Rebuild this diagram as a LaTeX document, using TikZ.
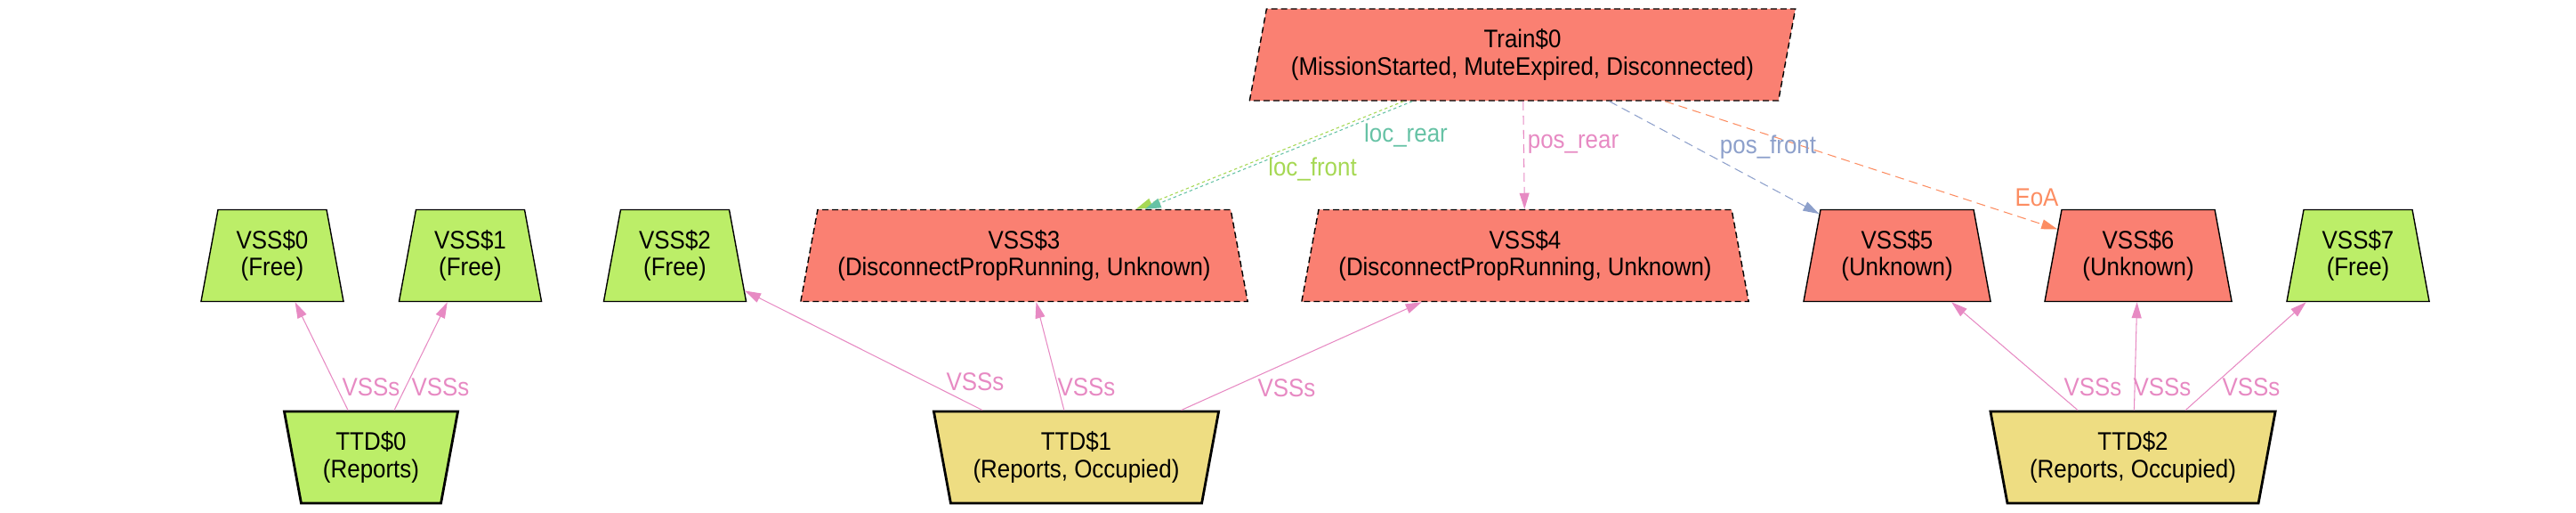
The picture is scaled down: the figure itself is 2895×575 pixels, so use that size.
\documentclass[tikz,border=0pt]{standalone}
\usepackage{fontspec}
\setmainfont{Liberation Sans}[FakeStretch=0.91]
\usetikzlibrary{shapes.geometric,arrows.meta}

\definecolor{salmon}{HTML}{FA8072}
\definecolor{olivegreen}{HTML}{BCEE68}
\definecolor{goldenrod}{HTML}{EEDD82}
\definecolor{setteal}{HTML}{66C2A5}
\definecolor{setorange}{HTML}{FC8D62}
\definecolor{setblue}{HTML}{8DA0CB}
\definecolor{setpink}{HTML}{E78AC3}
\definecolor{setgreen}{HTML}{A6D854}

\tikzset{
  vss/.style={draw, trapezium, trapezium angle=73.5, trapezium stretches body,
    minimum height=1.03cm, inner sep=1pt, align=center, line width=0.4pt},
  ttd/.style={vss, shape border rotate=180, line width=0.8pt},
  train/.style={draw, trapezium, trapezium left angle=73.5, trapezium right angle=106.5,
    trapezium stretches body, minimum height=1.03cm, inner sep=1pt, align=center, line width=0.4pt},
  freestate/.style={fill=olivegreen},
  unknownstate/.style={fill=salmon},
  occupiedstate/.style={fill=goldenrod},
  cutoff/.style={dash pattern=on 0.07cm off 0.04cm},
  link/.style={-{Triangle[length=0.18cm,width=0.11cm]}, line width=0.3pt},
  loose/.style={link, dash pattern=on 0.1cm off 0.06cm},
  tight/.style={link, dash pattern=on 0.035cm off 0.03cm},
  lbl/.style={inner sep=0pt}
}

\begin{document}
\begin{tikzpicture}[x=0.01cm, y=-0.01cm, font=\fontsize{8.1}{8.6}\selectfont]
  \useasboundingbox (0,0) rectangle (2895,575);

  % train
  \node[train, unknownstate, cutoff, minimum width=6.13cm] (tr) at (1711,61.5) {Train\$0\\(MissionStarted, MuteExpired, Disconnected)};

  % sections
  \node[vss, freestate, minimum width=1.60cm] (v0) at (306,287) {VSS\$0\\(Free)};
  \node[vss, freestate, minimum width=1.60cm] (v1) at (528.5,287) {VSS\$1\\(Free)};
  \node[vss, freestate, minimum width=1.60cm] (v2) at (758.5,287) {VSS\$2\\(Free)};
  \node[vss, unknownstate, cutoff, minimum width=5.02cm] (v3) at (1151,287) {VSS\$3\\(DisconnectPropRunning, Unknown)};
  \node[vss, unknownstate, cutoff, minimum width=5.02cm] (v4) at (1714,287) {VSS\$4\\(DisconnectPropRunning, Unknown)};
  \node[vss, unknownstate, minimum width=2.10cm] (v5) at (2132,287) {VSS\$5\\(Unknown)};
  \node[vss, unknownstate, minimum width=2.10cm] (v6) at (2403,287) {VSS\$6\\(Unknown)};
  \node[vss, freestate, minimum width=1.60cm] (v7) at (2650,287) {VSS\$7\\(Free)};

  % detection sections
  \node[ttd, freestate, minimum width=1.95cm] (t0) at (417,513.5) {TTD\$0\\(Reports)};
  \node[ttd, occupiedstate, minimum width=3.20cm] (t1) at (1209.5,513.5) {TTD\$1\\(Reports, Occupied)};
  \node[ttd, occupiedstate, minimum width=3.20cm] (t2) at (2397,513.5) {TTD\$2\\(Reports, Occupied)};

  % train pointers
  \draw[tight, setgreen, transform canvas={xshift=-0.04cm}] (tr) -- (v3);
  \draw[tight, setteal, transform canvas={xshift=0.06cm}] (tr) -- (v3);
  \draw[loose, setpink] (tr) -- (v4);
  \draw[loose, setblue] (tr) -- (v5);
  \draw[loose, setorange] (tr) -- (v6);

  \node[lbl, setteal] (lr) at (1580,152) {loc\_rear};
  \node[lbl, setgreen] (lf) at (1475,190) {loc\_front};
  \node[lbl, setpink] (pr) at (1768,162) {pos\_rear};
  \node[lbl, setblue] (pf) at (1987,165) {pos\_front};
  \node[lbl, setorange] (eo) at (2289,222) {EoA};

  % ttd -> vss
  \draw[link, setpink] (t0) -- (v0);
  \draw[link, setpink] (t0) -- (v1);
  \draw[link, setpink] (t1) -- (v2);
  \draw[link, setpink] (t1) -- (v3);
  \draw[link, setpink] (t1) -- (v4);
  \draw[link, setpink] (t2) -- (v5);
  \draw[link, setpink] (t2) -- (v6);
  \draw[link, setpink] (t2) -- (v7);

  \node[lbl, setpink] (s0) at (417,435) {VSSs};
  \node[lbl, setpink] (s1) at (495,435) {VSSs};
  \node[lbl, setpink] (s2) at (1096,429) {VSSs};
  \node[lbl, setpink] (s3) at (1221,435) {VSSs};
  \node[lbl, setpink] (s4) at (1446,436) {VSSs};
  \node[lbl, setpink] (s5) at (2352,435) {VSSs};
  \node[lbl, setpink] (s6) at (2430,435) {VSSs};
  \node[lbl, setpink] (s7) at (2530,435) {VSSs};
\end{tikzpicture}
\end{document}
